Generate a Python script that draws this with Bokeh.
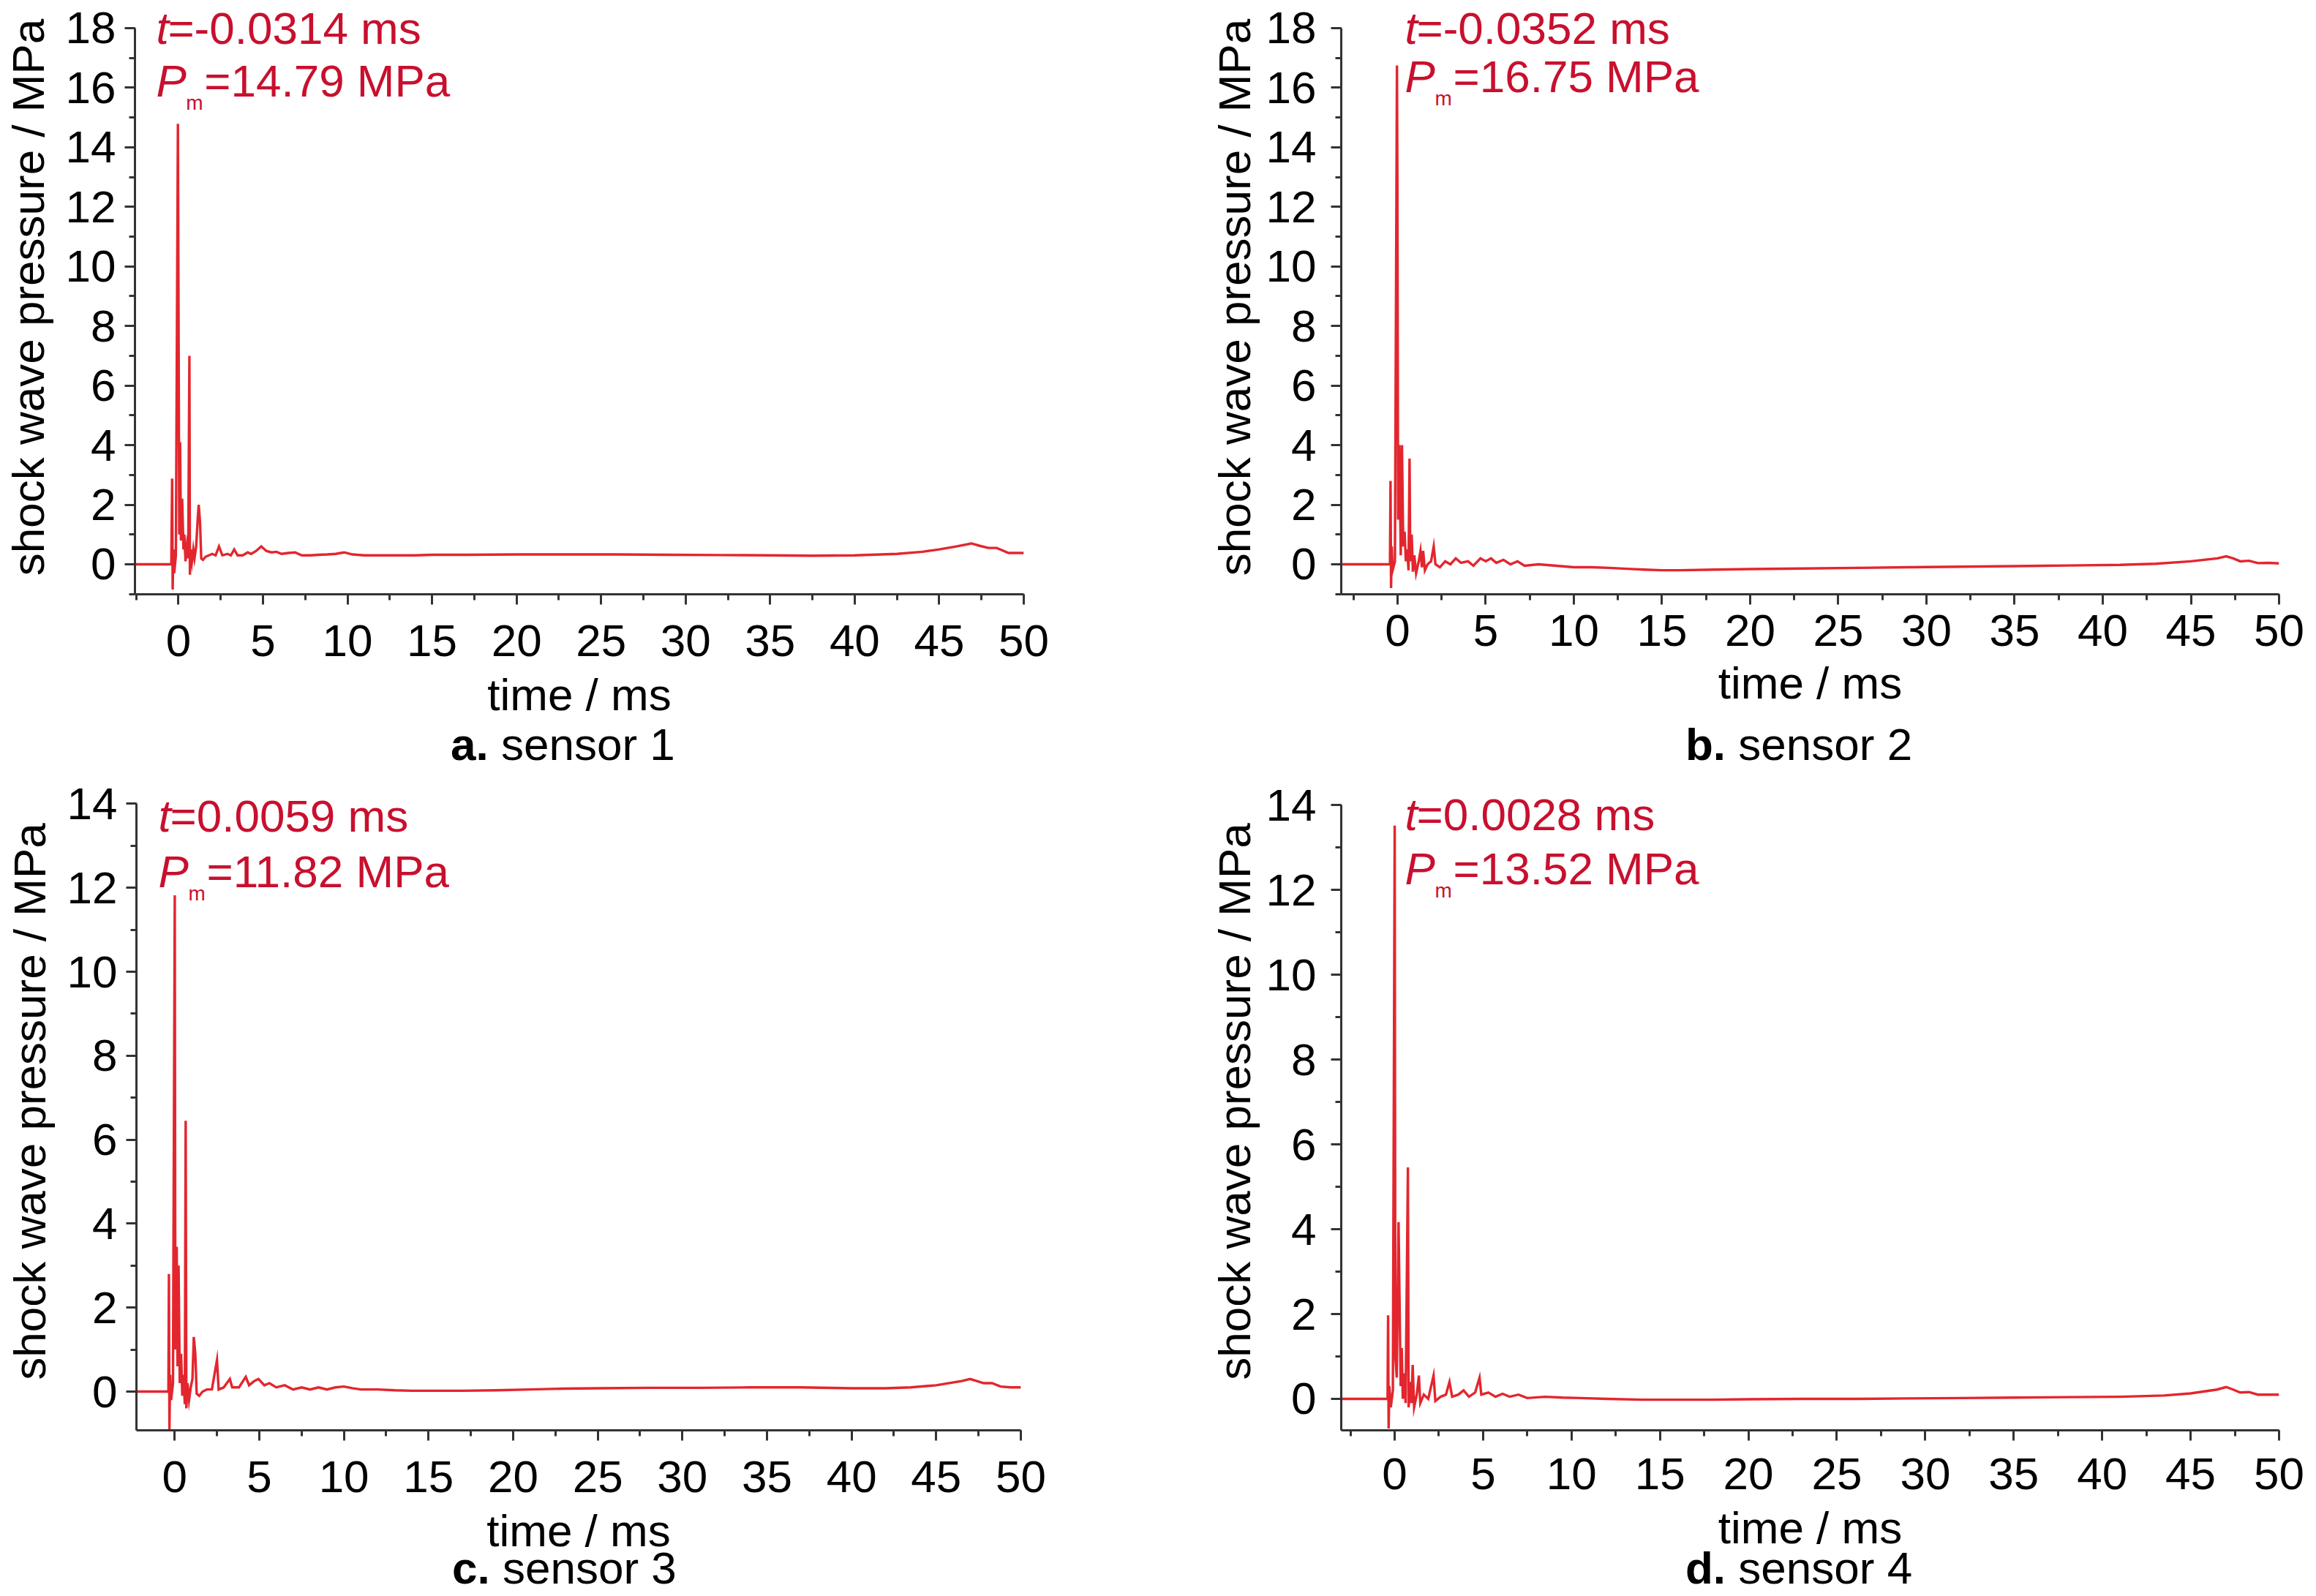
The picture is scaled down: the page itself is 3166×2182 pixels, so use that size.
from bokeh.plotting import figure
from bokeh.models import Label, SingleIntervalTicker, Range1d, Div
from bokeh.layouts import column, row
from bokeh.embed import file_html
from bokeh.resources import INLINE

# ---------------- data ----------------
time_a = [-3.2, -0.42, -0.37, -0.34, -0.30, -0.25, -0.15, -0.03, 0.05, 0.10, 0.15, 0.22, 0.30, 0.35, 0.42,
          0.50, 0.58, 0.65, 0.68, 0.72, 0.80, 0.88, 0.95, 1.05, 1.15, 1.20, 1.28, 1.35, 1.45, 1.6, 1.8, 2.0,
          2.2, 2.4, 2.6, 2.9, 3.1, 3.3, 3.5, 3.8, 4.1, 4.3, 4.6, 4.9, 5.2, 5.5, 5.8, 6.1, 6.5, 6.9, 7.3,
          7.8, 8.3, 8.8, 9.3, 9.8, 10.3, 11, 12, 13, 14, 15, 17, 20, 23, 26, 29, 32, 35, 37.5, 40, 42.5,
          44, 45, 46, 46.9, 47.4, 47.9, 48.4, 49.1, 50]
pressure_a = [0, 0, 2.88, -0.85, 0.5, -0.3, 0.3, 14.79, 1.0, 4.1, 0.8, 2.2, 0.5, 1.0, 0.1,
              0.6, 0.2, 7.0, -0.35, 0.5, 0.1, 0.5, 0.2, 0.6, 1.6, 2.0, 1.4, 0.2, 0.15, 0.25, 0.3, 0.35,
              0.3, 0.6, 0.3, 0.35, 0.3, 0.5, 0.3, 0.3, 0.4, 0.35, 0.45, 0.6, 0.45, 0.4, 0.42, 0.35, 0.38, 0.4, 0.3,
              0.3, 0.32, 0.33, 0.35, 0.4, 0.33, 0.3, 0.3, 0.3, 0.3, 0.32, 0.32, 0.33, 0.33, 0.33, 0.32, 0.31, 0.3, 0.29, 0.3, 0.35,
              0.42, 0.5, 0.6, 0.7, 0.62, 0.55, 0.55, 0.38, 0.38]

time_b = [-3.3, -0.43, -0.40, -0.37, -0.33, -0.28, -0.15, -0.035, -0.01, 0.03, 0.10, 0.18, 0.25, 0.32, 0.40,
          0.47, 0.55, 0.62, 0.68, 0.72, 0.80, 0.87, 0.95, 1.05, 1.2, 1.3, 1.38, 1.45, 1.55, 1.7, 1.9, 2.05,
          2.15, 2.4, 2.7, 3.0, 3.3, 3.6, 4.0, 4.3, 4.7, 5.0, 5.3, 5.6, 6.0, 6.4, 6.8, 7.2, 8, 9, 10, 11, 12,
          13, 14, 15, 16, 18, 20, 23, 26, 29, 32, 35, 38, 41, 43, 45, 46.5, 47.0, 47.4, 47.8, 48.3, 48.8, 49.4, 50]
pressure_b = [0, 0, 2.8, -0.8, 0.6, -0.2, 0.1, 16.75, 12.9, 1.5, 4.0, 0.3, 4.0, 0.6, 1.1,
              0.1, 0.5, -0.2, 3.55, 0.1, 1.0, -0.25, 0.3, -0.3, 0.1, 0.45, -0.1, 0.45, -0.2, 0.0, 0.1, 0.6,
              0.0, -0.1, 0.1, 0.0, 0.2, 0.05, 0.1, -0.05, 0.2, 0.1, 0.2, 0.05, 0.15, 0.0, 0.1, -0.05, 0.0, -0.05, -0.1, -0.1, -0.12,
              -0.15, -0.18, -0.2, -0.2, -0.18, -0.16, -0.14, -0.12, -0.1, -0.08, -0.06, -0.04, -0.02, 0.02, 0.1, 0.2, 0.27, 0.2, 0.1, 0.12, 0.04, 0.05, 0.03]

time_c = [-3.2, -0.37, -0.34, -0.31, -0.27, -0.21, -0.1, 0.006, 0.04, 0.12, 0.17, 0.23, 0.3, 0.38, 0.45,
          0.52, 0.6, 0.65, 0.69, 0.76, 0.85, 0.95, 1.05, 1.13, 1.22, 1.3, 1.45, 1.65, 1.9, 2.2, 2.5, 2.6,
          2.9, 3.26, 3.4, 3.8, 4.2, 4.4, 4.7, 4.95, 5.3, 5.6, 6.0, 6.5, 7.0, 7.5, 8.0, 8.5, 9, 9.5, 10, 10.5,
          11, 12, 13, 14, 15, 17, 19, 21, 23, 25, 28, 31, 34, 37, 40, 42, 43.5, 45, 46.5, 47.0, 47.4, 47.8,
          48.3, 48.8, 49.4, 50]
pressure_c = [0, 0, 2.8, -0.9, 0.4, -0.2, 0.2, 11.82, 1.0, 3.45, 0.6, 3.0, 0.2, 0.9, -0.1,
              0.4, -0.3, 6.45, -0.4, 0.2, -0.2, 0.1, 0.3, 1.3, 0.9, -0.05, -0.1, 0.0, 0.05, 0.05, 0.75, 0.05,
              0.1, 0.3, 0.1, 0.1, 0.35, 0.15, 0.25, 0.3, 0.15, 0.2, 0.1, 0.15, 0.05, 0.1, 0.05, 0.1, 0.05, 0.1, 0.12, 0.08,
              0.05, 0.05, 0.03, 0.02, 0.02, 0.02, 0.03, 0.05, 0.07, 0.08, 0.09, 0.09, 0.1, 0.1, 0.08, 0.08, 0.1, 0.15, 0.25, 0.3, 0.25, 0.2,
              0.2, 0.12, 0.1, 0.1]

time_d = [-3.2, -0.40, -0.37, -0.34, -0.30, -0.22, -0.1, 0.003, 0.04, 0.12, 0.22, 0.34, 0.4, 0.46, 0.54,
          0.62, 0.75, 0.79, 0.86, 0.95, 1.02, 1.1, 1.25, 1.37, 1.45, 1.65, 1.9, 2.2, 2.3, 2.6, 2.9, 3.1,
          3.25, 3.6, 3.9, 4.2, 4.55, 4.8, 4.9, 5.3, 5.7, 6.1, 6.5, 7.0, 7.5, 8.5, 9.5, 10.5, 12, 14, 16, 18,
          20, 23, 26, 29, 32, 35, 38, 41, 43.5, 45, 46.5, 47.0, 47.4, 47.8, 48.3, 48.8, 49.4, 50]
pressure_d = [0, 0, 1.97, -0.7, 0.3, -0.2, 0.2, 13.52, 1.0, 0.5, 4.17, 0.3, 1.2, 0.0, 0.6,
              -0.1, 5.46, -0.2, 0.4, -0.1, 0.8, -0.2, 0.1, 0.55, -0.1, 0.1, 0.0, 0.55, -0.05, 0.05, 0.1, 0.4,
              0.05, 0.1, 0.2, 0.05, 0.15, 0.5, 0.1, 0.15, 0.05, 0.12, 0.05, 0.1, 0.02, 0.05, 0.03, 0.02, 0.0, -0.02, -0.02, -0.02,
              -0.01, 0.0, 0.0, 0.01, 0.02, 0.03, 0.04, 0.05, 0.08, 0.13, 0.22, 0.28, 0.22, 0.15, 0.16, 0.1, 0.1, 0.1]

peak_time = [-0.0314, -0.0352, 0.0059, 0.0028]      # ms
peak_pressure = [14.79, 16.75, 11.82, 13.52]        # MPa
caption_letter = ["a.", "b.", "c.", "d."]
caption_text = ["sensor 1", "sensor 2", "sensor 3", "sensor 4"]
y_axis_max = [18, 18, 14, 14]

series = [(time_a, pressure_a), (time_b, pressure_b), (time_c, pressure_c), (time_d, pressure_d)]

# ---------------- styles / geometry ----------------
FONT = "Liberation Sans"
FSN = 62
FS = "%dpx" % FSN
RED_LINE = "#e3262e"
RED_TEXT = "#c8102e"
AXIS = "#333333"

# ox/oy = page position of the figure; c1/c2 = page y of annotation line centres
geom = [
    dict(ox=8, oy=8, W=1600, H=1008, bl=181, br=201, bb=196, xs=-2.57, ys=-1.007, ye=18.933,
         tick_so=28, lab_so=15, y_s1=12, y_s2=14, ann_x=218, c1=46, c2=118,
         cap_pad=616, div_h=44, mt=-12, mb=16),
    dict(ox=1608, oy=8, W=1550, H=1008, bl=233, br=35, bb=196, xs=-3.195, ys=-1.007, ye=18.933,
         tick_so=14, lab_so=13, y_s1=20, y_s2=6, ann_x=1928, c1=46, c2=112,
         cap_pad=704, div_h=44, mt=-12, mb=16),
    dict(ox=8, oy=1064, W=1600, H=1095, bl=186, br=205, bb=196, xs=-2.26, ys=-0.923, ye=14.739,
         tick_so=28, lab_so=15, y_s1=12, y_s2=14, ann_x=224, c1=1123, c2=1199,
         cap_pad=618, div_h=44, mt=-29, mb=0),
    dict(ox=1608, oy=1064, W=1550, H=1095, bl=233, br=35, bb=196, xs=-3.019, ys=-0.742, ye=14.766,
         tick_so=24, lab_so=15, y_s1=20, y_s2=6, ann_x=1928, c1=1121, c2=1195,
         cap_pad=704, div_h=44, mt=-29, mb=0),
]


def make_panel(i):
    g = geom[i]
    t, pr = series[i]
    ye = g["ye"]
    xe = 50
    p = figure(width=g["W"], height=g["H"], x_range=Range1d(g["xs"], xe), y_range=Range1d(g["ys"], ye),
               output_backend="svg", toolbar_location=None,
               min_border_left=g["bl"], min_border_right=g["br"],
               min_border_top=0, min_border_bottom=g["bb"])
    p.outline_line_color = None
    p.grid.visible = False
    p.background_fill_color = "white"
    p.border_fill_color = "white"

    p.xaxis.ticker = SingleIntervalTicker(interval=5, num_minor_ticks=2)
    p.yaxis.ticker = SingleIntervalTicker(interval=2, num_minor_ticks=2)
    p.yaxis.bounds = (g["ys"], y_axis_max[i])
    p.xaxis.axis_label = "time / ms"
    p.yaxis.axis_label = "shock wave pressure / MPa"
    for ax in (p.xaxis[0], p.yaxis[0]):
        ax.axis_line_color = AXIS
        ax.axis_line_width = 3
        ax.major_tick_line_color = AXIS
        ax.minor_tick_line_color = AXIS
        ax.major_tick_line_width = 3
        ax.minor_tick_line_width = 3
        ax.major_tick_in = 0
        ax.minor_tick_in = 0
        ax.major_tick_out = 14
        ax.minor_tick_out = 8
        ax.major_label_text_font = FONT
        ax.major_label_text_font_size = FS
        ax.major_label_text_color = "black"
        ax.axis_label_text_font = FONT
        ax.axis_label_text_font_size = FS
        ax.axis_label_text_font_style = "normal"
        ax.axis_label_text_color = "black"
    p.xaxis.major_label_standoff = g["tick_so"]
    p.xaxis.axis_label_standoff = g["lab_so"]
    p.yaxis.major_label_standoff = g["y_s1"]
    p.yaxis.axis_label_standoff = g["y_s2"]

    p.line(t, pr, line_color=RED_LINE, line_width=3.4, line_join="miter")

    # page pixel -> data conversion for text placement
    fl = g["ox"] + g["bl"]
    fb = g["oy"] + g["H"] - g["bb"]
    ppx = (g["W"] - g["bl"] - g["br"]) / (xe - g["xs"])
    ppy = (g["H"] - g["bb"]) / (ye - g["ys"])

    def put(px, py, text, size=FS, style="normal", color=RED_TEXT):
        x = g["xs"] + (px - fl) / ppx
        y = g["ys"] + (fb - py) / ppy
        p.add_layout(Label(x=x, y=y, text=text, text_font=FONT, text_font_size=size,
                           text_font_style=style, text_color=color, text_align="left",
                           text_baseline="middle"))

    ax0 = g["ann_x"]
    put(ax0, g["c1"], "t", style="italic")
    put(ax0 + 16, g["c1"], "=%.4f ms" % peak_time[i])
    put(ax0, g["c2"], "P", style="italic")
    put(ax0 + 41, g["c2"] + 30, "m", size="28px")
    put(ax0 + 66, g["c2"], "=%.2f MPa" % peak_pressure[i])

    cap = Div(text="<b>%s</b> %s" % (caption_letter[i], caption_text[i]),
              width=g["W"], height=g["div_h"], margin=(g["mt"], 0, g["mb"], 0),
              styles={"font-family": FONT, "font-size": FS, "line-height": "%dpx" % g["div_h"],
                      "color": "black", "padding-left": "%dpx" % g["cap_pad"],
                      "white-space": "nowrap", "overflow": "visible"})
    return column(p, cap, spacing=0)


panels = [make_panel(i) for i in range(4)]
layout = column(row(panels[0], panels[1], spacing=0), row(panels[2], panels[3], spacing=0), spacing=0)

open("out.html", "w").write(file_html(layout, INLINE, title="shock wave pressure"))
